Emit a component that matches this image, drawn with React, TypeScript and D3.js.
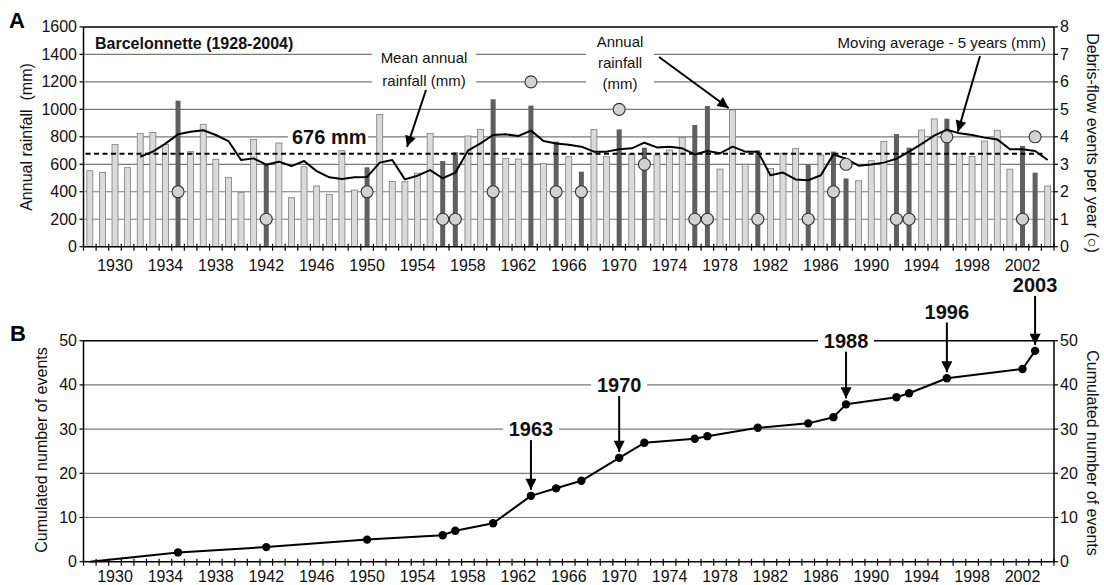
import React from "react";
import * as d3 from "d3";

// ---------- data ----------
const years: number[] = d3.range(1928, 2005);
const rainfall: number[] = [
  553, 541, 743, 575, 825, 832, 745, 1063, 692, 891, // 1928-1937
  636, 505, 396, 781, 605, 755, 357, 582, 442, 381, // 1938-1947
  699, 413, 578, 963, 475, 473, 535, 825, 624, 687, // 1948-1957
  806, 854, 1073, 643, 638, 1027, 607, 765, 655, 546, // 1958-1967
  852, 655, 854, 672, 721, 667, 704, 796, 886, 1024, // 1968-1977
  565, 995, 600, 701, 570, 680, 714, 595, 667, 692, // 1978-1987
  497, 480, 626, 767, 820, 721, 849, 930, 932, 677, // 1988-1997
  658, 769, 847, 565, 733, 539, 442, // 1998-2004
];
const eventYears: number[] = [1935, 1942, 1950, 1956, 1957, 1960, 1963, 1965, 1967, 1970, 1972, 1976, 1977, 1981, 1985, 1987, 1988, 1992, 1993, 1996, 2002, 2003];
const eventCounts: number[] = [2, 1, 2, 1, 1, 2, 6, 2, 2, 5, 3, 1, 1, 1, 1, 2, 3, 1, 1, 4, 1, 4];
const maYears: number[] = d3.range(1932, 2005);
const maValues: number[] = [
  655, 692, 750, 818, 837, 848, 813, 769, 631, 643, // 1932-1941
  597, 619, 587, 624, 550, 505, 493, 505, 508, 612, // 1942-1951
  631, 490, 517, 558, 498, 539, 699, 752, 813, 818, // 1952-1961
  806, 845, 770, 752, 742, 728, 692, 692, 709, 716, // 1962-1971
  757, 723, 728, 716, 672, 697, 680, 728, 692, 692, // 1972-1981
  520, 540, 490, 484, 520, 672, 640, 590, 598, 612, // 1982-1991
  640, 692, 748, 808, 852, 825, 813, 794, 781, 709, // 1992-2001
  709, 697, 631, // 2002-2004
];
const meanRainfall = 676;
const cumYears: number[] = [1928, 1935, 1942, 1950, 1956, 1957, 1960, 1963, 1965, 1967, 1970, 1972, 1976, 1977, 1981, 1985, 1987, 1988, 1992, 1993, 1996, 2002, 2003];
const cumValues: number[] = [0, 2.1, 3.3, 5.0, 6.0, 7.0, 8.7, 14.9, 16.6, 18.3, 23.5, 26.9, 27.8, 28.4, 30.3, 31.3, 32.7, 35.6, 37.2, 38.1, 41.5, 43.6, 47.7];
const annoYears: number[] = [1963, 1970, 1988, 1996, 2003];
const annoLevels: number[] = [30, 40, 50, 56.6, 62.6];
const yearTicks: number[] = d3.range(1930, 2003, 4);
const rainTicks: number[] = d3.range(0, 1601, 200);
const eventTicks: number[] = d3.range(0, 9, 1);
const cumTicks: number[] = d3.range(0, 51, 10);

// ---------- layout ----------
const W = 1104, H = 585;
const L = 83.5, R = 1054;
const FONT = "'Liberation Sans', Arial, Helvetica, sans-serif";

const x = d3.scaleBand<number>().domain(years).range([L, R]).paddingInner(0).paddingOuter(0);
const bw = x.bandwidth();
const xc = (y: number) => (x(y) as number) + bw / 2;
const yA = d3.scaleLinear().domain([0, 1600]).range([246.7, 26.9]);
const yE = d3.scaleLinear().domain([0, 8]).range([246.7, 26.9]);
const yB = d3.scaleLinear().domain([0, 50]).range([561.7, 340.7]);

const maLine = d3.line<number>().x((_, i) => xc(maYears[i])).y((d) => yA(d));
const cumLine = d3.line<number>().x((_, i) => xc(cumYears[i])).y((d) => yB(d));

const GRID = "#7a7a7a";

function XAxis({ y0, labelY }: { y0: number; labelY: number }) {
  return (
    <g>
      <line x1={L} x2={R} y1={y0} y2={y0} stroke="#000" strokeWidth={1.5} />
      {d3.range(0, years.length + 1).map((i) => (
        <line key={i} x1={L + i * bw} x2={L + i * bw} y1={y0 - 3} y2={y0 + 4} stroke="#000" strokeWidth={1.2} />
      ))}
      {yearTicks.map((t) => (
        <text key={t} x={xc(t)} y={labelY} textAnchor="middle" fontSize={16} fill="#111">
          {t}
        </text>
      ))}
    </g>
  );
}

function Arrow({ x1, y1, x2, y2 }: { x1: number; y1: number; x2: number; y2: number }) {
  return <line x1={x1} y1={y1} x2={x2} y2={y2} stroke="#000" strokeWidth={2} markerEnd="url(#ah)" />;
}

export default function App() {
  const evMap = new Map<number, number>();
  eventYears.forEach((y, i) => evMap.set(y, eventCounts[i]));
  const yTop = yA(1600);
  const y0A = yA(0);
  const y0B = yB(0);
  const yTopB = yB(50);

  return (
    <svg
      width={W}
      height={H}
      style={{ position: "absolute", left: 0, top: 0, background: "#fff", fontFamily: FONT }}
    >
      <defs>
        <marker id="ah" viewBox="0 0 10 10" refX={10} refY={5} markerWidth={14} markerHeight={11} markerUnits="userSpaceOnUse" orient="auto">
          <path d="M0,0 L10,5 L0,10 z" fill="#000" />
        </marker>
      </defs>
      <rect x={0} y={0} width={W} height={H} fill="#fff" />

      {/* ================= PANEL A ================= */}
      <text x={9} y={28} fontSize={22} fontWeight="bold">A</text>
      {rainTicks.filter((t) => t > 0 && t < 1600).map((t) => (
        <line key={t} x1={L} x2={R} y1={yA(t)} y2={yA(t)} stroke={GRID} strokeWidth={1.2} />
      ))}
      <line x1={L} x2={R} y1={yTop} y2={yTop} stroke="#000" strokeWidth={1.5} />

      {/* annotation backgrounds */}
      <rect x={91} y={32} width={247} height={20} fill="#fff" />
      <rect x={288} y={127} width={80} height={19} fill="#fff" />
      <rect x={372} y={47} width={104} height={44} fill="#fff" />
      <rect x={586} y={30} width={68} height={64} fill="#fff" />
      <rect x={804} y={32} width={246} height={20} fill="#fff" />

      {/* bars */}
      {years.map((yr, i) => {
        const ev = evMap.has(yr);
        const v = rainfall[i];
        const w = ev ? 5 : 6;
        return (
          <rect
            key={yr}
            x={xc(yr) - w / 2}
            y={yA(v)}
            width={w}
            height={y0A - yA(v)}
            fill={ev ? "#5f5f5f" : "#dadada"}
            stroke={ev ? "none" : "#7d7d7d"}
            strokeWidth={0.8}
          />
        );
      })}

      {/* mean line */}
      <line x1={L + 2} x2={R - 8} y1={yA(meanRainfall)} y2={yA(meanRainfall)} stroke="#000" strokeWidth={2} strokeDasharray="5,3.5" />

      {/* moving average */}
      <path d={maLine(maValues) as string} fill="none" stroke="#000" strokeWidth={2} strokeLinejoin="round" />

      {/* event circles */}
      {eventYears.map((yr, i) => (
        <circle key={yr} cx={xc(yr)} cy={yE(eventCounts[i])} r={6} fill="#d2d2d2" stroke="#333" strokeWidth={1.1} />
      ))}

      {/* axes A */}
      <line x1={L} x2={L} y1={yTop} y2={y0A} stroke="#000" strokeWidth={1.5} />
      <line x1={R} x2={R} y1={yTop} y2={y0A} stroke="#000" strokeWidth={1.5} />
      {rainTicks.map((t) => (
        <g key={t}>
          <line x1={L - 4} x2={L} y1={yA(t)} y2={yA(t)} stroke="#000" strokeWidth={1.2} />
          <text x={77} y={yA(t) + 5.5} textAnchor="end" fontSize={16} fill="#111">{t}</text>
        </g>
      ))}
      {eventTicks.map((t) => (
        <g key={t}>
          <line x1={R} x2={R + 4} y1={yE(t)} y2={yE(t)} stroke="#000" strokeWidth={1.2} />
          <text x={1060} y={yE(t) + 5.5} textAnchor="start" fontSize={16} fill="#111">{t}</text>
        </g>
      ))}
      <XAxis y0={y0A} labelY={271} />
      <text transform={`translate(32,137) rotate(-90)`} textAnchor="middle" fontSize={16} fill="#111" style={{ whiteSpace: "pre" }}>
        Annual rainfall  (mm)
      </text>
      <text transform={`translate(1087,143) rotate(90)`} textAnchor="middle" fontSize={16} fill="#111">
        Debris-flow events per year (○)
      </text>

      {/* annotations A */}
      <text x={95} y={49} fontSize={16} fontWeight="bold" fill="#111">Barcelonnette (1928-2004)</text>
      <text x={292} y={144} fontSize={20} fontWeight="bold" fill="#111">676 mm</text>
      <text x={424} y={63} textAnchor="middle" fontSize={15} fill="#111">Mean annual</text>
      <text x={424} y={86} textAnchor="middle" fontSize={15} fill="#111">rainfall (mm)</text>
      <Arrow x1={426} y1={90} x2={407} y2={yA(meanRainfall) - 7} />
      <text x={620} y={47} textAnchor="middle" fontSize={15} fill="#111">Annual</text>
      <text x={620} y={68} textAnchor="middle" fontSize={15} fill="#111">rainfall</text>
      <text x={620} y={89} textAnchor="middle" fontSize={15} fill="#111">(mm)</text>
      <Arrow x1={659} y1={57} x2={xc(1979) - 4} y2={yA(rainfall[1979 - 1928]) - 2} />
      <text x={1046} y={48} textAnchor="end" fontSize={15} fill="#111">Moving average - 5 years (mm)</text>
      <Arrow x1={980} y1={56} x2={xc(1996) + 11} y2={yA(maValues[1996 - 1932]) + 2} />

      {/* ================= PANEL B ================= */}
      <text x={10} y={341} fontSize={22} fontWeight="bold">B</text>
      {cumTicks.filter((t) => t > 0 && t < 50).map((t) => (
        <line key={t} x1={L} x2={R} y1={yB(t)} y2={yB(t)} stroke={GRID} strokeWidth={1.2} />
      ))}
      <line x1={L} x2={R} y1={yTopB} y2={yTopB} stroke="#000" strokeWidth={1.5} />
      <line x1={L} x2={L} y1={yTopB} y2={y0B} stroke="#000" strokeWidth={1.5} />
      <line x1={R} x2={R} y1={yTopB} y2={y0B} stroke="#000" strokeWidth={1.5} />
      {cumTicks.map((t) => (
        <g key={t}>
          <line x1={L - 4} x2={L} y1={yB(t)} y2={yB(t)} stroke="#000" strokeWidth={1.2} />
          <text x={77} y={yB(t) + 5.5} textAnchor="end" fontSize={16} fill="#111">{t}</text>
          <line x1={R} x2={R + 4} y1={yB(t)} y2={yB(t)} stroke="#000" strokeWidth={1.2} />
          <text x={1060} y={yB(t) + 5.5} textAnchor="start" fontSize={16} fill="#111">{t}</text>
        </g>
      ))}
      <XAxis y0={y0B} labelY={582} />
      <text transform={`translate(47,450) rotate(-90)`} textAnchor="middle" fontSize={16} fill="#111">
        Cumulated number of events
      </text>
      <text transform={`translate(1087,453) rotate(90)`} textAnchor="middle" fontSize={16} fill="#111">
        Cumulated number of events
      </text>

      <path d={cumLine(cumValues) as string} fill="none" stroke="#000" strokeWidth={2} strokeLinejoin="round" />
      {cumYears.map((yr, i) =>
        i === 0 ? null : <circle key={yr} cx={xc(yr)} cy={yB(cumValues[i])} r={4.2} fill="#000" />
      )}

      {annoYears.map((yr, i) => {
        const cy = yB(annoLevels[i]);
        const val = cumValues[cumYears.indexOf(yr)];
        return (
          <g key={yr}>
            <rect x={xc(yr) - 28} y={cy - 11} width={56} height={22} fill="#fff" />
            <text x={xc(yr)} y={cy + 7} textAnchor="middle" fontSize={20} fontWeight="bold" fill="#111">{yr}</text>
            <Arrow x1={xc(yr)} y1={cy + 11} x2={xc(yr)} y2={yB(val) - 6} />
          </g>
        );
      })}
    </svg>
  );
}
